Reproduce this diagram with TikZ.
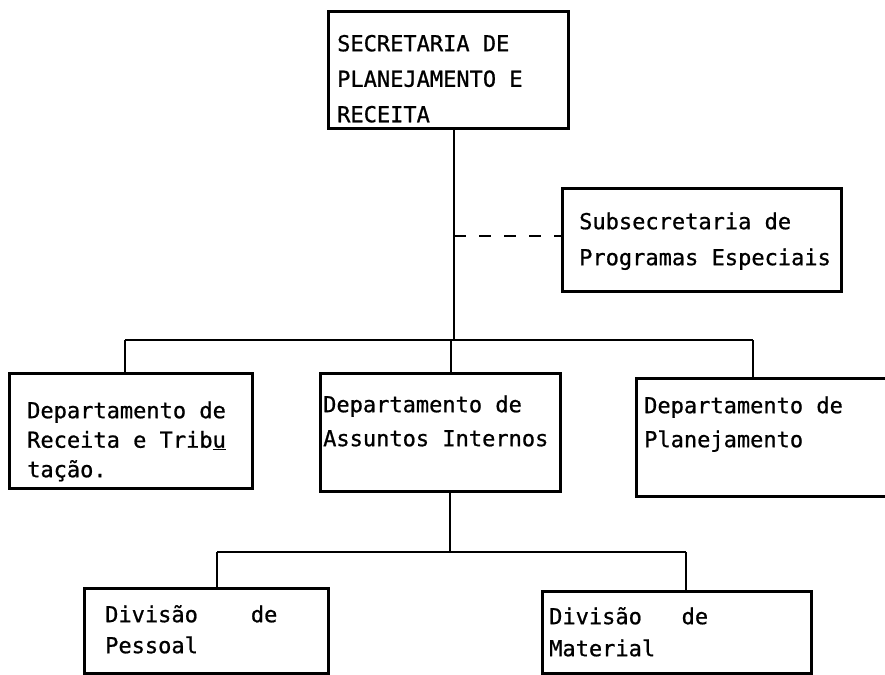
\documentclass[tikz,border=0pt]{standalone}
\usepackage{fontspec}
\setmonofont[FakeBold=0.8]{DejaVu Sans Mono}
\begin{document}
\begin{tikzpicture}[x=1pt,y=-1pt,
  box/.style={draw,line width=2.8pt,rectangle,inner sep=0pt,anchor=north west},
  txt/.style={inner sep=0pt,anchor=north west,align=left},
  conn/.style={line width=2.8pt},
  dashconn/.style={line width=2.8pt,dash pattern=on 12pt off 13pt}]
\useasboundingbox (0,0) rectangle (885,674);
% boxes
\node[box,minimum width=240pt,minimum height=117pt] (top) at (327,10) {};
\node[box,minimum width=279pt,minimum height=103pt] (sub) at (561,187) {};
\node[box,minimum width=243pt,minimum height=115pt] (dl) at (8,372) {};
\node[box,minimum width=240pt,minimum height=118pt] (dm) at (319,372) {};
\node[box,minimum width=260pt,minimum height=118pt] (dr) at (635,377) {};
\node[box,minimum width=244pt,minimum height=85pt] (vp) at (83,587) {};
\node[box,minimum width=269pt,minimum height=82pt] (vm) at (541,590) {};
% texts
\node[txt,font=\ttfamily\fontsize{22}{35.5}\selectfont] (topt) at (337,26.2)
  {\strut SECRETARIA DE\\PLANEJAMENTO E\\RECEITA};
\node[txt,font=\ttfamily\fontsize{22}{36}\selectfont] (subt) at (579,203.8)
  {\strut Subsecretaria de\\Programas Especiais};
\node[txt,font=\ttfamily\fontsize{22}{29.5}\selectfont] (dlt) at (27,397.35)
  {\strut Departamento de\\Receita e Trib\underline{u}\\ta\c{c}\~ao.};
\node[txt,font=\ttfamily\fontsize{22}{34}\selectfont] (dmt) at (323,388.2)
  {\strut Departamento de\\Assuntos Internos};
\node[txt,font=\ttfamily\fontsize{22}{34}\selectfont] (drt) at (644,389.2)
  {\strut Departamento de\\Planejamento};
\node[txt,font=\ttfamily\fontsize{22}{31}\selectfont] (vpt) at (105,600.3)
  {\strut Divis\~ao\ \ \ \ de\\Pessoal};
\node[txt,font=\ttfamily\fontsize{22}{32}\selectfont] (vmt) at (549,601.6)
  {\strut Divis\~ao\ \ \ de\\Material};
% junctions
\coordinate (j1) at (454,340);
\coordinate (b1l) at (125,340);
\coordinate (b1m) at (451,340);
\coordinate (b1r) at (753,340);
\coordinate (d1) at (454,236);
\coordinate (j2) at (450,552);
\coordinate (b2l) at (217,552);
\coordinate (b2r) at (686,552);
% connectors
\draw[conn] (top.south west -| j1) -- (j1);
\draw[conn] (b1l) -- (b1r);
\draw[conn] (b1l) -- (b1l |- dl.north);
\draw[conn] (b1m) -- (b1m |- dm.north);
\draw[conn] (b1r) -- (b1r |- dr.north);
\draw[dashconn] (d1) -- (d1 -| sub.west);
\draw[conn] (dm.south west -| j2) -- (j2);
\draw[conn] (b2l) -- (b2r);
\draw[conn] (b2l) -- (b2l |- vp.north);
\draw[conn] (b2r) -- (b2r |- vm.north);
\end{tikzpicture}
\end{document}
